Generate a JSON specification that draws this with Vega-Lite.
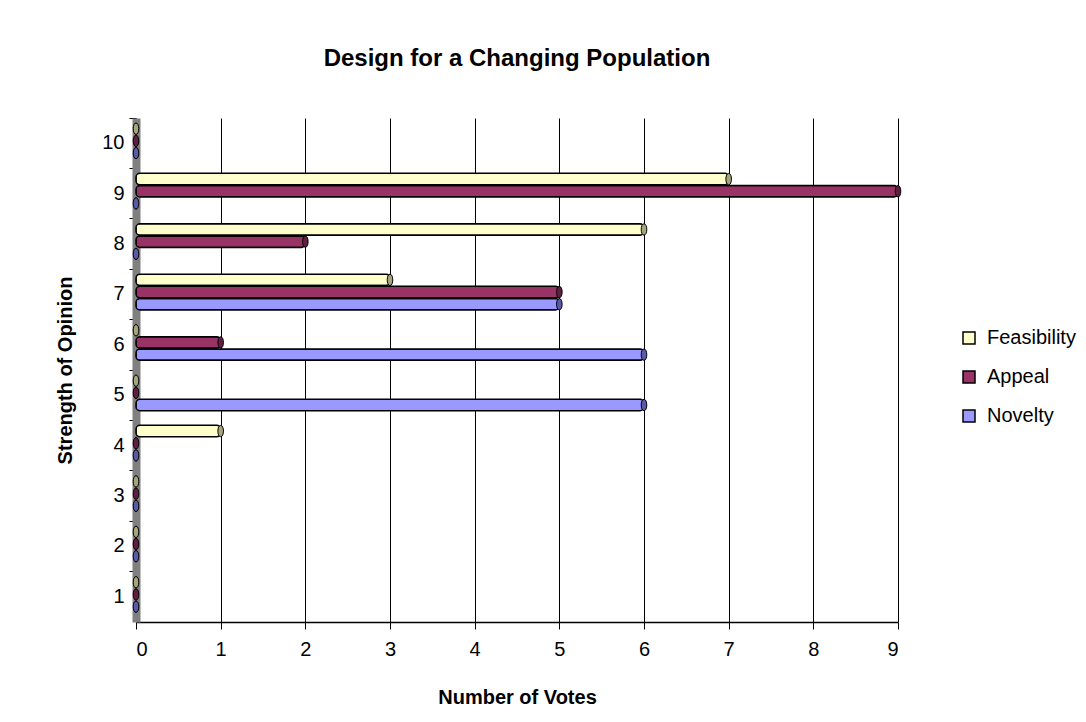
{
  "$schema": "https://vega.github.io/schema/vega-lite/v6.json",
  "autosize": {"type": "none"},
  "width": 762,
  "height": 504,
  "padding": {"left": 136, "top": 118, "right": 188, "bottom": 100},
  "background": "white",
  "config": {
    "font": "Liberation Sans",
    "view": {"stroke": null},
    "axis": {"labelFont": "Liberation Sans", "titleFont": "Liberation Sans", "labelColor": "black", "titleColor": "black"},
    "legend": {"labelFont": "Liberation Sans"}
  },
  "title": {
    "text": "Design for a Changing Population",
    "fontSize": 24,
    "fontWeight": "bold",
    "color": "black",
    "anchor": "middle",
    "baseline": "alphabetic",
    "offset": 28
  },
  "data": {
    "values": [
      {"opinion": 1, "series": "Feasibility", "votes": 0},
      {"opinion": 1, "series": "Appeal", "votes": 0},
      {"opinion": 1, "series": "Novelty", "votes": 0},
      {"opinion": 2, "series": "Feasibility", "votes": 0},
      {"opinion": 2, "series": "Appeal", "votes": 0},
      {"opinion": 2, "series": "Novelty", "votes": 0},
      {"opinion": 3, "series": "Feasibility", "votes": 0},
      {"opinion": 3, "series": "Appeal", "votes": 0},
      {"opinion": 3, "series": "Novelty", "votes": 0},
      {"opinion": 4, "series": "Feasibility", "votes": 1},
      {"opinion": 4, "series": "Appeal", "votes": 0},
      {"opinion": 4, "series": "Novelty", "votes": 0},
      {"opinion": 5, "series": "Feasibility", "votes": 0},
      {"opinion": 5, "series": "Appeal", "votes": 0},
      {"opinion": 5, "series": "Novelty", "votes": 6},
      {"opinion": 6, "series": "Feasibility", "votes": 0},
      {"opinion": 6, "series": "Appeal", "votes": 1},
      {"opinion": 6, "series": "Novelty", "votes": 6},
      {"opinion": 7, "series": "Feasibility", "votes": 3},
      {"opinion": 7, "series": "Appeal", "votes": 5},
      {"opinion": 7, "series": "Novelty", "votes": 5},
      {"opinion": 8, "series": "Feasibility", "votes": 6},
      {"opinion": 8, "series": "Appeal", "votes": 2},
      {"opinion": 8, "series": "Novelty", "votes": 0},
      {"opinion": 9, "series": "Feasibility", "votes": 7},
      {"opinion": 9, "series": "Appeal", "votes": 9},
      {"opinion": 9, "series": "Novelty", "votes": 0},
      {"opinion": 10, "series": "Feasibility", "votes": 0},
      {"opinion": 10, "series": "Appeal", "votes": 0},
      {"opinion": 10, "series": "Novelty", "votes": 0}
    ]
  },
  "encoding": {
    "y": {
      "field": "opinion",
      "type": "ordinal",
      "sort": "descending",
      "scale": {"paddingInner": 0, "paddingOuter": 0},
      "axis": {
        "title": "Strength of Opinion",
        "titleFontSize": 20,
        "titleFontWeight": "bold",
        "titlePadding": 26,
        "labelFontSize": 20,
        "labelPadding": 5,
        "labelAngle": 0,
        "bandPosition": 0,
        "tickColor": "black",
        "tickSize": 7,
        "domainColor": "#808080",
        "domainWidth": 8,
        "grid": false
      }
    },
    "yOffset": {
      "field": "series",
      "type": "nominal",
      "sort": ["Feasibility", "Appeal", "Novelty"],
      "scale": {"paddingInner": 0.06, "paddingOuter": 0.6, "align": 0.34}
    },
    "x": {
      "field": "votes",
      "type": "quantitative",
      "scale": {"domain": [0, 9], "nice": false},
      "axis": {
        "title": "Number of Votes",
        "titleFontSize": 20,
        "titleFontWeight": "bold",
        "titlePadding": 28,
        "labelFontSize": 20,
        "labelPadding": 10,
        "values": [0, 1, 2, 3, 4, 5, 6, 7, 8, 9],
        "format": "d",
        "tickColor": "black",
        "tickSize": 7,
        "domainColor": "black",
        "domainWidth": 1.5,
        "grid": true,
        "gridColor": "black",
        "gridWidth": 1,
        "gridOpacity": 1
      }
    }
  },
  "layer": [
    {
      "mark": {"type": "bar", "stroke": "black", "strokeWidth": 1.5, "cornerRadius": 4},
      "encoding": {
        "fill": {
          "field": "series",
          "type": "nominal",
          "scale": {
            "domain": ["Feasibility", "Appeal", "Novelty"],
            "range": ["#FFFFCC", "#993366", "#9999FF"]
          },
          "legend": {
            "title": null,
            "orient": "none",
            "legendX": 823,
            "legendY": 210,
            "symbolType": "square",
            "symbolSize": 144,
            "symbolStrokeColor": "black",
            "symbolStrokeWidth": 1.5,
            "symbolOpacity": 1,
            "labelFontSize": 20,
            "labelColor": "black",
            "labelOffset": 8,
            "rowPadding": 19,
            "padding": 0
          }
        }
      }
    },
    {
      "mark": {
        "type": "point",
        "filled": true,
        "shape": "M0,-1 C0.65,-1 0.65,1 0,1 C-0.65,1 -0.65,-1 0,-1 Z",
        "size": 130,
        "stroke": "black",
        "strokeWidth": 1,
        "opacity": 1
      },
      "encoding": {
        "color": {
          "field": "series",
          "type": "nominal",
          "scale": {
            "domain": ["Feasibility", "Appeal", "Novelty"],
            "range": ["#A5A57E", "#5E1F40", "#5A5AA8"]
          },
          "legend": null
        }
      }
    }
  ]
}
